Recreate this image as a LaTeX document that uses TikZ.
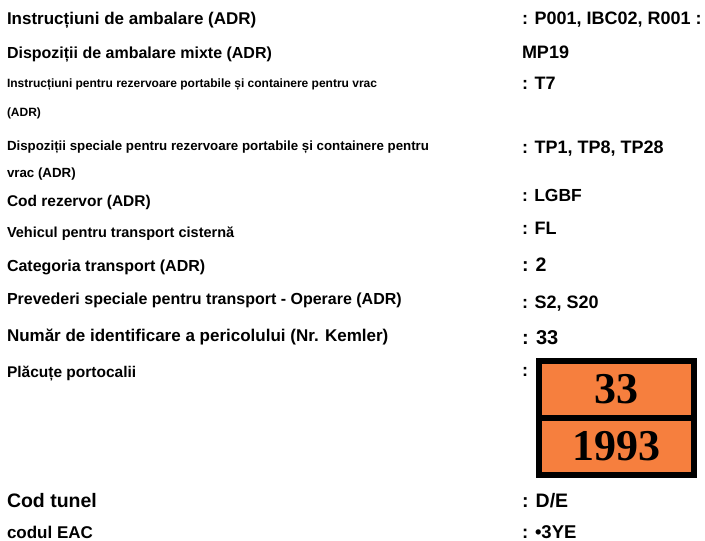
\documentclass[tikz,border=0pt]{standalone}
\usepackage{fontspec}
\setmainfont{Liberation Sans}
\newfontfamily\platefont{Liberation Serif}
\usetikzlibrary{positioning}
\definecolor{plateorange}{RGB}{246,127,62}
\newcommand{\fsz}[1]{\bfseries\fontsize{#1}{#1}\selectfont}
\tikzstyle{field} = [anchor=base west, inner sep=0pt, outer sep=0pt]
\tikzstyle{value} = [anchor=base west, inner sep=0pt, outer sep=0pt]
\tikzstyle{plate} = [rectangle, draw=black, line width=6pt, fill=plateorange, minimum width=155pt, minimum height=57pt, inner sep=0pt, outer sep=0pt, font=\platefont\bfseries\fontsize{44}{44}\selectfont]

\begin{document}
\begin{tikzpicture}[x=1pt, y=-1pt]
\useasboundingbox (0,0) rectangle (705,541);

% left column
\node (f1) [field, font=\fsz{17}] at (7,24) {Instrucțiuni de ambalare (ADR)};
\node (f2) [field, font=\fsz{16}] at (7,58) {Dispoziții de ambalare mixte (ADR)};
\node (f3) [field, font=\fsz{12}] at (7,87) {Instrucțiuni pentru rezervoare portabile și containere pentru vrac};
\node (f3b) [field, font=\fsz{12}] at (7,116) {(ADR)};
\node (f4) [field, font=\fsz{13.3}] at (7,150) {Dispoziții speciale pentru rezervoare portabile și containere pentru};
\node (f4b) [field, font=\fsz{13.3}] at (7,177) {vrac (ADR)};
\node (f5) [field, font=\fsz{15.5}] at (7,206) {Cod rezervor (ADR)};
\node (f6) [field, font=\fsz{14.5}] at (7,237) {Vehicul pentru transport cisternă};
\node (f7) [field, font=\fsz{16}] at (7,271) {Categoria transport (ADR)};
\node (f8) [field, font=\fsz{16}] at (7,304) {Prevederi speciale pentru transport - Operare (ADR)};
\node (f9) [field, font=\fsz{17}] at (7,341) {Număr de identificare a pericolului (Nr. Kemler)};
\node (f10) [field, font=\fsz{15.5}] at (7,377) {Plăcuțe portocalii};
\node (f11) [field, font=\fsz{19.5}] at (7,507) {Cod tunel};
\node (f12) [field, font=\fsz{17}] at (7,538) {codul EAC};

% right column
\node (v1) [value, font=\fsz{18}] at (522,24.5) {: P001, IBC02, R001 :};
\node (v2) [value, font=\fsz{18}] at (522,58.5) {MP19};
\node (v3) [value, font=\fsz{18}] at (522,89.5) {: T7};
\node (v4) [value, font=\fsz{18}] at (522,153.5) {: TP1, TP8, TP28};
\node (v5) [value, font=\fsz{17.5}] at (522,201) {: LGBF};
\node (v6) [value, font=\fsz{18}] at (522,234.5) {: FL};
\node (v7) [value, font=\fsz{19.5}] at (522,271) {: 2};
\node (v8) [value, font=\fsz{18}] at (522,308.5) {: S2, S20};
\node (v9) [value, font=\fsz{20}] at (522,344) {: 33};
\node (v10) [value, font=\fsz{18}] at (522,376) {:};
\node (v11) [value, font=\fsz{19.5}] at (522,507) {: D/E};
\node (v12) [value, font=\fsz{18.5}] at (522,538) {: •3YE};

% orange plate
\node (hazard) [plate] at (616.5,389.5) {33};
\node (unnum) [plate, below=0pt of hazard] {1993};

\end{tikzpicture}
\end{document}
